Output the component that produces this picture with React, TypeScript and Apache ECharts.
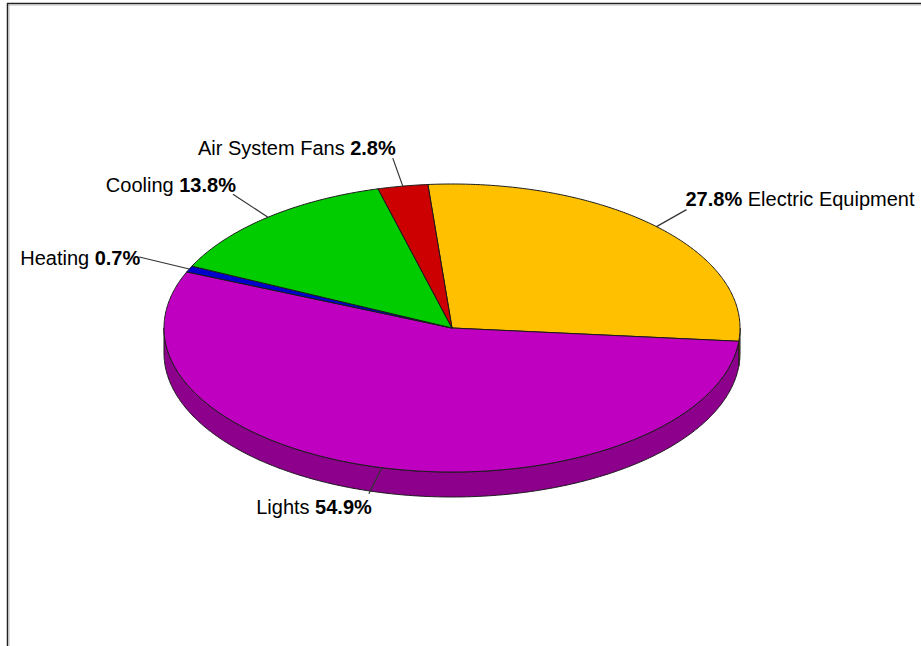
import React, { useEffect, useRef } from "react";
import * as echarts from "echarts";

// ---- data ----
const categories = ["Electric Equipment", "Lights", "Heating", "Cooling", "Air System Fans"];
const shares = [27.8, 54.9, 0.7, 13.8, 2.8];
const topColors = ["#FFC000", "#C000C0", "#0000CC", "#00CC00", "#CC0000"];
const sideColors = ["#B38700", "#8C008C", "#00008C", "#008C00", "#8C0000"];
const percentFirst = [true, false, false, false, false];

// ---- layout ----
const START_DEG = -94.8; // where the first slice begins (0 = right, clockwise on screen)
const DEPTH = 25 / 144; // pie thickness in units of the vertical radius
const labelLayout = [
  { dx: 30, dy: -17, tx: -1, ty: -11, align: "left" },
  { dx: -13, dy: 26, tx: 3, ty: 13, align: "right" },
  { dx: -50, dy: -12, tx: 1, ty: 1, align: "right" },
  { dx: -35, dy: -23, tx: 3, ty: -9, align: "right" },
  { dx: -10, dy: -28, tx: 3, ty: -10, align: "right" },
];

const total = shares.reduce((a, b) => a + b, 0);
const angles: { a: number; b: number }[] = [];
{
  let acc = START_DEG;
  for (const v of shares) {
    const span = (v / total) * 360;
    angles.push({ a: acc, b: acc + span });
    acc += span;
  }
}

const rad = (d: number) => (d * Math.PI) / 180;

function arcPts(api: any, a: number, b: number, off: number) {
  const pts: number[][] = [];
  const n = Math.max(2, Math.ceil(Math.abs(b - a) / 0.5));
  for (let i = 0; i <= n; i++) {
    const t = rad(a + ((b - a) * i) / n);
    pts.push(api.coord([Math.cos(t), Math.sin(t) + off]));
  }
  return pts;
}

function visibleRange(a: number, b: number) {
  for (const k of [-1, 0, 1]) {
    const lo = Math.max(a + 360 * k, 0);
    const hi = Math.min(b + 360 * k, 180);
    if (hi > lo) return { lo, hi };
  }
  return null;
}

export default function App() {
  const ref = useRef<HTMLDivElement>(null);

  useEffect(() => {
    document.body.style.margin = "0";
    const chart = echarts.init(ref.current!, null, { renderer: "svg" });
    const data = shares.map((v, i) => [i, v]);

    const sideRender = (params: any, api: any) => {
      const i = params.dataIndex;
      const { a, b } = angles[i];
      const r = visibleRange(a, b);
      if (!r) return { type: "group", children: [] };
      const top = arcPts(api, r.lo, r.hi, 0);
      const bot = arcPts(api, r.hi, r.lo, DEPTH);
      return {
        type: "polygon",
        shape: { points: top.concat(bot) },
        style: { fill: sideColors[i], stroke: "#1a1a1a", lineWidth: 1, lineJoin: "round" },
      };
    };

    const topRender = (params: any, api: any) => {
      const i = params.dataIndex;
      const { a, b } = angles[i];
      const c = api.coord([0, 0]);
      const pts = [c].concat(arcPts(api, a, b, 0));
      return {
        type: "polygon",
        shape: { points: pts },
        style: { fill: topColors[i], stroke: "#1a1a1a", lineWidth: 1, lineJoin: "round" },
      };
    };

    const labelRender = (params: any, api: any) => {
      const i = params.dataIndex;
      const { a, b } = angles[i];
      const m = rad((a + b) / 2);
      const s = api.coord([Math.cos(m), Math.sin(m)]);
      const L = labelLayout[i];
      const ex = s[0] + L.dx;
      const ey = s[1] + L.dy;
      const pct = api.value(1).toFixed(1) + "%";
      const text = percentFirst[i]
        ? `{b|${pct}}{n| ${categories[i]}}`
        : `{n|${categories[i]} }{b|${pct}}`;
      return {
        type: "group",
        children: [
          {
            type: "line",
            shape: { x1: s[0], y1: s[1], x2: ex, y2: ey },
            style: { stroke: "#333333", lineWidth: 1.2 },
          },
          {
            type: "text",
            x: ex + L.tx,
            y: ey + L.ty,
            style: {
              text,
              align: L.align,
              verticalAlign: "middle",
              fill: "#000",
              rich: {
                n: { fontFamily: "Liberation Sans, Arial, sans-serif", fontSize: 20, fill: "#000", color: "#000" },
                b: {
                  fontFamily: "Liberation Sans, Arial, sans-serif",
                  fontSize: 20,
                  fontWeight: "bold",
                  fill: "#000",
                  color: "#000",
                },
              },
            },
          },
        ],
      };
    };

    chart.setOption({
      animation: false,
      backgroundColor: "#ffffff",
      grid: { left: 164, top: 184, width: 576, height: 288, containLabel: false },
      xAxis: { type: "value", min: -1, max: 1, show: false },
      yAxis: { type: "value", min: -1, max: 1, inverse: true, show: false },
      graphic: [
        { type: "line", shape: { x1: 7, y1: 3.5, x2: 921, y2: 3.5 }, style: { stroke: "#222", lineWidth: 1.5 } },
        { type: "line", shape: { x1: 8, y1: 5, x2: 921, y2: 5 }, style: { stroke: "#bbbbbb", lineWidth: 1 } },
        { type: "line", shape: { x1: 7.5, y1: 3, x2: 7.5, y2: 646 }, style: { stroke: "#222", lineWidth: 1.5 } },
        { type: "line", shape: { x1: 9, y1: 5, x2: 9, y2: 646 }, style: { stroke: "#bbbbbb", lineWidth: 1 } },
      ],
      series: [
        { type: "custom", coordinateSystem: "cartesian2d", z: 1, data, renderItem: sideRender, silent: true },
        { type: "custom", coordinateSystem: "cartesian2d", z: 2, data, renderItem: topRender, silent: true },
        { type: "custom", coordinateSystem: "cartesian2d", z: 3, data, renderItem: labelRender, silent: true },
      ],
    });
    return () => chart.dispose();
  }, []);

  return <div ref={ref} style={{ width: 921, height: 646 }} />;
}
